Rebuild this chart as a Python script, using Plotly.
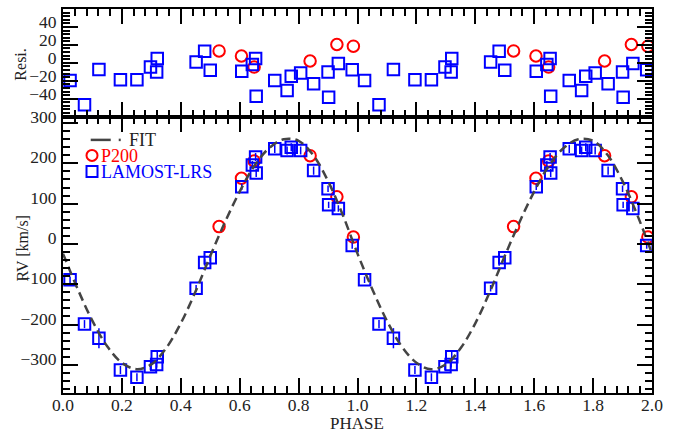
import plotly.graph_objects as go

# ---------------- data ----------------
lamost_phase = [0.024, 0.073, 0.122, 0.195, 0.251, 0.297, 0.318, 0.320, 0.452, 0.481, 0.500,
                0.607, 0.643, 0.654, 0.656, 0.719, 0.761, 0.775, 0.807, 0.851, 0.900, 0.902,
                0.935, 0.982]
lamost_rv = [-89, -199, -234, -313, -331, -305, -299, -280, -110, -46, -34,
             142, 196, 216, 176, 236, 232, 240, 232, 182, 137, 97, 88, -4]
lamost_err = [8, 10, 25, 10, 10, 8, 8, 12, 8, 8, 8,
              8, 10, 10, 10, 10, 10, 10, 10, 10, 8, 8, 8, 8]
lamost_resi = [-19.6, -46.9, -7.6, -18.8, -18.8, -4.7, -10.3, 4.7, 0.9, 12.9, -8.4,
               -9.5, -2.0, 4.7, -37.2, -19.6, -30.8, -15.1, -11.4, -23.3, -10.3, -38.3,
               -0.9, -7.8]

p200_phase = [0.530, 0.606, 0.649, 0.839, 0.930, 0.986]
p200_rv = [43, 163, 206, 219, 117, 17]
p200_resi = [13.2, 7.6, -4.7, 2.0, 20.4, 18.5]

fit_phase = [0.00, 0.05, 0.10, 0.15, 0.20, 0.25, 0.30, 0.35, 0.40, 0.45, 0.50,
             0.55, 0.60, 0.65, 0.70, 0.75, 0.80, 0.85, 0.90, 0.95, 1.00]
fit_rv = [-24, -112, -191, -254, -295, -311, -299, -259, -197, -118, -30,
          54, 130, 194, 238, 260, 256, 220, 156, 72, -24]

x_ticks = [0.0, 0.2, 0.4, 0.6, 0.8, 1.0, 1.2, 1.4, 1.6, 1.8, 2.0]
rv_ticks = [-300, -200, -100, 0, 100, 200, 300]
resi_ticks = [-40, -20, 0, 20, 40]

# two cycles in phase
def two(ph):
    return list(ph) + [p + 1 for p in ph]

BLUE = "#0000ff"
RED = "#ff0000"
FITC = "#444444"
FONT = "Liberation Serif"

fig = go.Figure()

# ---------------- RV panel ----------------
fig.add_trace(go.Scatter(x=two(p200_phase), y=p200_rv * 2, mode="markers",
                         marker=dict(symbol="circle-open", size=11.5, color=RED,
                                     line=dict(width=2, color=RED)),
                         xaxis="x", yaxis="y", showlegend=False))
fig.add_trace(go.Scatter(x=two(lamost_phase), y=lamost_rv * 2, mode="markers",
                         error_y=dict(type="data", array=lamost_err * 2, color=BLUE,
                                      thickness=1.5, width=0),
                         marker=dict(symbol="square-open", size=11.5, color=BLUE,
                                     line=dict(width=2, color=BLUE)),
                         xaxis="x", yaxis="y", showlegend=False))
fit_x = fit_phase + [p + 1 for p in fit_phase[1:]]
fit_y = fit_rv + fit_rv[1:]
fig.add_trace(go.Scatter(x=fit_x, y=fit_y, mode="lines",
                         line=dict(color=FITC, width=2.5, dash="9px,5px", shape="spline"),
                         xaxis="x", yaxis="y", showlegend=False))

# ---------------- residual panel ----------------
fig.add_trace(go.Scatter(x=two(p200_phase), y=p200_resi * 2, mode="markers",
                         marker=dict(symbol="circle-open", size=11.5, color=RED,
                                     line=dict(width=2, color=RED)),
                         xaxis="x2", yaxis="y2", showlegend=False))
fig.add_trace(go.Scatter(x=two(lamost_phase), y=lamost_resi * 2, mode="markers",
                         marker=dict(symbol="square-open", size=11.5, color=BLUE,
                                     line=dict(width=2, color=BLUE)),
                         xaxis="x2", yaxis="y2", showlegend=False))

# ---------------- geometry (body margin removed below) ----------------
W, H = 692, 433
AX_L, AX_R, AX_T, AX_B = 63.3, 652.0, 9.0, 393.3
MID = 116.7
L, T, R, B = AX_L, AX_T, W - AX_R, H - AX_B
PW, PH = W - L - R, H - T - B
split = (AX_B - MID) / PH

tickfont = dict(family=FONT, size=17.5, color="#222222")
common = dict(showline=True, linecolor="black", linewidth=2, mirror="ticks",
              ticks="inside", ticklen=15, tickwidth=1.5, tickcolor="black",
              showgrid=False, zeroline=False, tickfont=tickfont, automargin=False)

fig.update_layout(
    template="none",
    width=W, height=H,
    margin=dict(l=L, r=R, t=T, b=B, pad=0, autoexpand=False),
    paper_bgcolor="white", plot_bgcolor="white",
    xaxis=dict(domain=[0, 1], range=[0, 2], anchor="y", tickmode="array",
               tickvals=x_ticks, ticktext=[f"{v:.1f}" for v in x_ticks],
               ticklabelstandoff=-5,
               minor=dict(dtick=0.04, ticks="inside", ticklen=7, tickwidth=1.5,
                          tickcolor="black", showgrid=False),
               **common),
    yaxis=dict(domain=[0, split], range=[-370, 316], anchor="x", tickmode="array",
               tickvals=rv_ticks, ticklabelshift=-6, ticklabelstandoff=1,
               minor=dict(dtick=20, ticks="inside", ticklen=7, tickwidth=1.5,
                          tickcolor="black", showgrid=False),
               **common),
    xaxis2=dict(domain=[0, 1], range=[0, 2], anchor="y2", tickmode="array",
                tickvals=x_ticks, showticklabels=False,
                minor=dict(dtick=0.04, ticks="inside", ticklen=7, tickwidth=1.5,
                           tickcolor="black", showgrid=False),
                **common),
    yaxis2=dict(domain=[split, 1], range=[-60, 60], anchor="x2", tickmode="array",
                tickvals=resi_ticks, ticklabelshift=-5, ticklabelstandoff=1,
                minor=dict(dtick=4, ticks="inside", ticklen=7, tickwidth=1.5,
                           tickcolor="black", showgrid=False),
                **common),
)

def px_x(px):
    return (px - L) / PW

def px_y(py):
    return (H - B - py) / PH

annos = []
annos.append(dict(text="PHASE", x=px_x(357.5), y=px_y(424), xref="paper", yref="paper",
                  showarrow=False, font=dict(family=FONT, size=17, color="#222222"),
                  xanchor="center", yanchor="middle"))
annos.append(dict(text="RV [km/s]", x=px_x(23), y=px_y(249), xref="paper", yref="paper",
                  showarrow=False, textangle=-90,
                  font=dict(family=FONT, size=16, color="#222222"),
                  xanchor="center", yanchor="middle"))
annos.append(dict(text="Resi.", x=px_x(21), y=px_y(65), xref="paper", yref="paper",
                  showarrow=False, textangle=-90,
                  font=dict(family=FONT, size=16, color="#222222"),
                  xanchor="center", yanchor="middle"))
# legend texts
annos.append(dict(text="FIT", x=px_x(127), y=px_y(140), xref="paper", yref="paper",
                  showarrow=False, font=dict(family=FONT, size=18, color="#222222"),
                  xanchor="left", yanchor="middle"))
annos.append(dict(text="P200", x=px_x(99), y=px_y(156), xref="paper", yref="paper",
                  showarrow=False, font=dict(family=FONT, size=18, color=RED),
                  xanchor="left", yanchor="middle"))
annos.append(dict(text="LAMOST-LRS", x=px_x(99), y=px_y(172), xref="paper", yref="paper",
                  showarrow=False, font=dict(family=FONT, size=18, color=BLUE),
                  xanchor="left", yanchor="middle"))
fig.update_layout(annotations=annos)

shapes = [
    dict(type="line", xref="paper", yref="paper", x0=px_x(91), x1=px_x(111),
         y0=px_y(140), y1=px_y(140), line=dict(color=FITC, width=2.5)),
    dict(type="line", xref="paper", yref="paper", x0=px_x(119), x1=px_x(121),
         y0=px_y(140), y1=px_y(140), line=dict(color=FITC, width=2.5)),
    dict(type="circle", xref="paper", yref="paper", xsizemode="pixel", ysizemode="pixel",
         xanchor=px_x(92.3), yanchor=px_y(155.5), x0=-5.5, x1=5.5, y0=-5.5, y1=5.5,
         line=dict(color=RED, width=2)),
    dict(type="rect", xref="paper", yref="paper", xsizemode="pixel", ysizemode="pixel",
         xanchor=px_x(92.3), yanchor=px_y(171.7), x0=-5.5, x1=5.5, y0=-5.5, y1=5.5,
         line=dict(color=BLUE, width=2)),
]
fig.update_layout(shapes=shapes)

fig.write_html("out.html", config={"displayModeBar": False},
               post_script="document.body.style.margin='0';document.body.style.overflow='hidden';")
